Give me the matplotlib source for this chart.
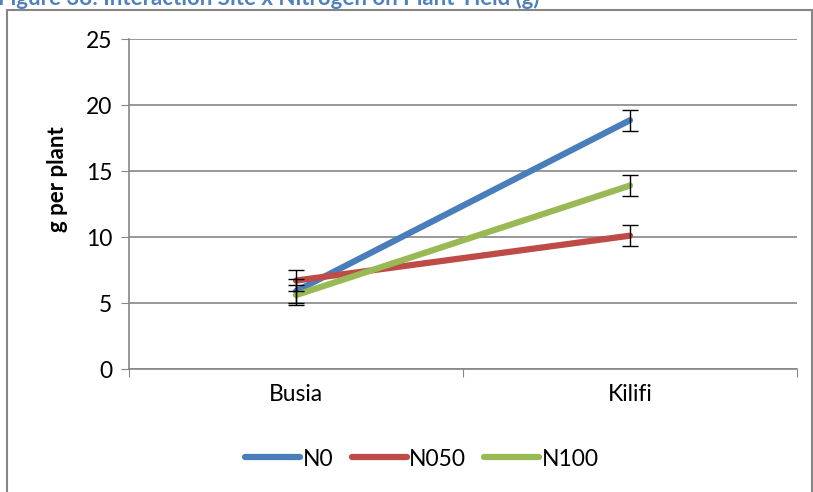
import matplotlib
matplotlib.use("Agg")
import matplotlib.pyplot as plt
from matplotlib.patches import Rectangle
import numpy as np

plt.rcParams['font.family'] = ['Lato', 'DejaVu Sans']

sites = ["Busia", "Kilifi"]
series_names = ["N0", "N050", "N100"]
n0 = [5.9, 18.85]
n050 = [6.7, 10.1]
n100 = [5.6, 13.9]
n0_err = [0.9, 0.8]
n050_err = [0.8, 0.8]
n100_err = [0.75, 0.8]
colors = ["#4A7EBB", "#BE4B48", "#98B954"]
yticks = [0, 5, 10, 15, 20, 25]
title = "Figure 38: Interaction Site x Nitrogen on Plant Yield (g)"

W, H = 813, 492
fig = plt.figure(figsize=(W/100, H/100), dpi=100)
ax = fig.add_axes([129/W, 1-369/H, (797-129)/W, (369-39)/H])

x = np.arange(len(sites))
for vals, errs, c, name in zip([n0, n050, n100], [n0_err, n050_err, n100_err], colors, series_names):
    ax.plot(x, vals, color=c, lw=4.5, solid_capstyle='round', label=name, zorder=3)
    ax.errorbar(x, vals, yerr=errs, fmt='none', ecolor='black', elinewidth=1,
                capsize=6, capthick=1, zorder=4)

ax.set_xlim(-0.5, 1.5)
ax.set_ylim(0, 25)
ax.set_yticks(yticks)
ax.set_yticklabels([str(t) for t in yticks], fontsize=16.5)
ax.set_xticks([-0.5, 0.5, 1.5])
ax.set_xticklabels([])
ax.set_xticks(x, minor=True)
ax.set_xticklabels(sites, minor=True, fontsize=16.5)
ax.tick_params(axis='x', which='minor', length=0, pad=11)
ax.tick_params(axis='x', which='major', length=6, color='#868686', direction='out')
ax.tick_params(axis='y', length=6, color='#868686', direction='out', pad=6)
ax.grid(axis='y', color='#868686', lw=1.2)
ax.set_axisbelow(True)
for s in ['top', 'right']:
    ax.spines[s].set_visible(False)
for s in ['left', 'bottom']:
    ax.spines[s].set_color('#868686')
    ax.spines[s].set_linewidth(1.2)
ax.set_ylabel("g per plant", fontsize=16, fontweight='bold')
ax.yaxis.set_label_coords(-(129-68)/(797-129), (369-179)/(369-39))

leg = fig.legend(loc='center', bbox_to_anchor=(422/W, 1-459/H), ncol=3, frameon=False,
                 fontsize=16.5, handlelength=2.4, handletextpad=0.1, columnspacing=0.8)

fig.patches.append(Rectangle((7/W, -0.1), (812-7)/W, 1.1 - 10/H, transform=fig.transFigure,
                             fill=False, edgecolor='#868686', lw=1.5))
fig.text(-2/W, 1-5/H, title, color='#4F81BD', fontsize=16, fontweight='bold', va='baseline', ha='left')

fig.savefig("out.png", dpi=100)
